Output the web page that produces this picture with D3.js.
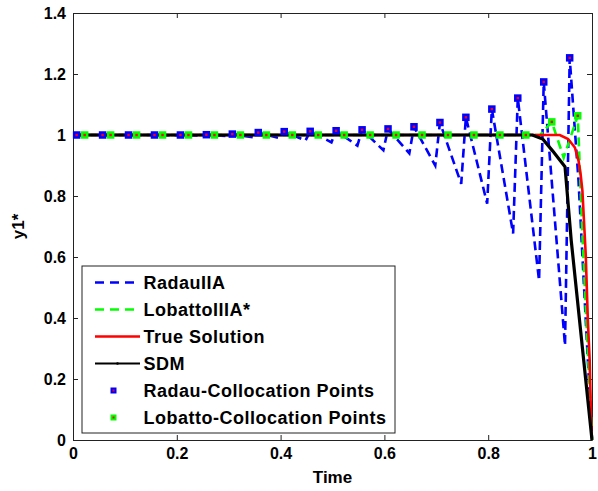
<!DOCTYPE html>
<html>
<head>
<meta charset="utf-8">
<script src="https://cdn.jsdelivr.net/npm/d3@7/dist/d3.min.js"></script>
<style>
body { margin: 0; background: #fff; }
text { font-family: "Liberation Sans", Arial, sans-serif; font-weight: bold; fill: #000; }
</style>
</head>
<body>
<div id="chart"></div>
<script>
// Values

// RadauIIA: a peak at the start of each element, falling to a trough before the next one
const radauPeakT = [0.007, 0.057, 0.107, 0.157, 0.207, 0.257, 0.307, 0.357, 0.407, 0.457,
                    0.507, 0.557, 0.607, 0.657, 0.707, 0.757, 0.807, 0.857, 0.907, 0.957];
const radauPeakV = [1.0, 1.0, 1.0, 1.0, 1.0, 1.001, 1.003, 1.008, 1.011, 1.012,
                    1.014, 1.017, 1.02, 1.027, 1.041, 1.058, 1.085, 1.121, 1.174, 1.253];
const radauTroughT = [0.048, 0.098, 0.148, 0.198, 0.248, 0.298, 0.348, 0.398, 0.448, 0.498,
                      0.548, 0.598, 0.648, 0.698, 0.748, 0.798, 0.848, 0.898, 0.948];
const radauTroughV = [1.0, 1.0, 1.0, 0.999, 0.998, 0.996, 0.992, 0.99, 0.982, 0.976,
                      0.965, 0.95, 0.94, 0.90, 0.84, 0.775, 0.677, 0.523, 0.31];
const radauTailT = [0.974, 0.994, 1.0];
const radauTailV = [0.85, 0.196, 0.0];

// LobattoIIIA*
const lobattoT = [0, 0.9, 0.9225, 0.9455, 0.9725, 0.982, 0.99, 0.9955, 1.0];
const lobattoV = [1.0, 1.0, 1.043, 0.926, 1.063, 0.654, 0.36, 0.173, 0.0];

// Lobatto collocation points (element midpoints)
const lobPtsT = [0.0225, 0.0725, 0.1225, 0.1725, 0.2225, 0.2725, 0.3225, 0.3725, 0.4225, 0.4725,
                 0.5225, 0.5725, 0.6225, 0.6725, 0.7225, 0.7725, 0.8225, 0.8725, 0.9225, 0.9725];
const lobPtsV = [1, 1, 1, 1, 1, 1, 1, 1, 1, 1,
                 1, 1, 1, 1, 1, 1, 1, 1, 1.043, 1.063];

// True Solution
const trueT = [0, 0.938, 0.954, 0.967, 0.974, 0.978, 0.9815, 0.988, 0.992, 0.9955, 0.999];
const trueV = [1.0, 1.0, 0.987, 0.959, 0.916, 0.872, 0.818, 0.605, 0.393, 0.262, 0.01];

// SDM
const sdmT = [0, 0.885, 0.905, 0.924, 0.948, 0.96, 1.0];
const sdmV = [1.0, 1.0, 0.987, 0.948, 0.896, 0.654, 0.0];

const xTicks = [0, 0.2, 0.4, 0.6, 0.8, 1];
const yTicks = [0, 0.2, 0.4, 0.6, 0.8, 1, 1.2, 1.4];
const legendLabels = ["RadauIIA", "LobattoIIIA*", "True Solution", "SDM",
                      "Radau-Collocation Points", "Lobatto-Collocation Points"];

// Chart size
let margin = {top: 13, right: 6, bottom: 51, left: 73},
    width = 598 - margin.left - margin.right,
    height = 491 - margin.top - margin.bottom;

let x = d3.scaleLinear().domain([0, 1]).range([0, width]);
let y = d3.scaleLinear().domain([0, 1.4]).range([height, 0]);

let svg = d3.select("#chart").append("svg")
    .attr("width", 598)
    .attr("height", 491)
    .append("g")
    .attr("transform", "translate(" + margin.left + "," + margin.top + ")");

// Axes (ticks point inward, box on all four sides)
let fmt = d => d3.format("~g")(d);
let gx = svg.append("g")
    .attr("transform", "translate(0," + height + ")")
    .call(d3.axisBottom(x).tickValues(xTicks).tickSize(-5).tickSizeOuter(0).tickPadding(8).tickFormat(fmt));
let gy = svg.append("g")
    .call(d3.axisLeft(y).tickValues(yTicks).tickSize(-5).tickSizeOuter(0).tickPadding(7).tickFormat(fmt));
svg.append("g")
    .call(d3.axisTop(x).tickValues(xTicks).tickSize(-5).tickSizeOuter(0).tickFormat(""));
svg.append("g")
    .attr("transform", "translate(" + width + ",0)")
    .call(d3.axisRight(y).tickValues(yTicks).tickSize(-5).tickSizeOuter(0).tickFormat(""));
svg.selectAll(".domain, .tick line").attr("stroke", "#222");
svg.selectAll(".tick text").style("font-size", "16px").style("font-family", null);

// Axis titles
svg.append("text")
    .attr("x", width / 2)
    .attr("y", height + 43)
    .attr("text-anchor", "middle")
    .style("font-size", "17px")
    .text("Time");
svg.append("text")
    .attr("transform", "translate(" + (-49) + "," + (height / 2) + ") rotate(-90)")
    .attr("text-anchor", "middle")
    .style("font-size", "17px")
    .text("y1*");

// Build the radau line from peaks and troughs
let radauData = [];
for (let i = 0; i < radauPeakT.length; i++) {
    radauData.push({t: radauPeakT[i], v: radauPeakV[i]});
    if (i < radauTroughT.length) radauData.push({t: radauTroughT[i], v: radauTroughV[i]});
}
radauTailT.forEach((t, i) => radauData.push({t: t, v: radauTailV[i]}));

let zip = (ts, vs) => ts.map((t, i) => ({t: t, v: vs[i]}));

let line = d3.line().x(d => x(d.t)).y(d => y(d.v));

svg.append("path").datum(radauData)
    .attr("fill", "none").attr("stroke", "#0000ff").attr("stroke-width", 2.6)
    .attr("stroke-dasharray", "9,5").attr("d", line);
svg.append("path").datum(zip(lobattoT, lobattoV))
    .attr("fill", "none").attr("stroke", "#00ff00").attr("stroke-width", 2.6)
    .attr("stroke-dasharray", "9,5").attr("d", line);
svg.append("path").datum(zip(trueT, trueV))
    .attr("fill", "none").attr("stroke", "#ff0000").attr("stroke-width", 2.6)
    .attr("d", line);
svg.append("path").datum(zip(sdmT, sdmV))
    .attr("fill", "none").attr("stroke", "#000").attr("stroke-width", 3.2)
    .attr("stroke-linejoin", "round").attr("d", line);

// Collocation point markers: filled square with a red dot in the middle
function drawMarkers(data, color, size) {
    let g = svg.append("g");
    g.selectAll("rect.sq").data(data).enter().append("rect")
        .attr("x", d => x(d.t) - size / 2)
        .attr("y", d => y(d.v) - size / 2)
        .attr("width", size).attr("height", size)
        .attr("fill", color);
    g.selectAll("rect.dot").data(data).enter().append("rect")
        .attr("x", d => x(d.t) - 1.2)
        .attr("y", d => y(d.v) - 1.2)
        .attr("width", 2.4).attr("height", 2.4)
        .attr("fill", "#ff0000");
}
drawMarkers(zip(radauPeakT, radauPeakV), "#0000ff", 7.5);
drawMarkers(zip(lobPtsT, lobPtsV), "#00ff00", 7.5);

// Legend
let lg = svg.append("g").attr("transform", "translate(" + (82 - margin.left) + "," + (266 - margin.top) + ")");
lg.append("rect").attr("width", 313).attr("height", 167)
    .attr("fill", "#fff").attr("stroke", "#222").attr("stroke-width", 1);
let rowY = i => 16.5 + i * 27;
let legendStyles = [
    {color: "#0000ff", dash: "9,6", w: 2.6},
    {color: "#00ff00", dash: "9,6", w: 2.6},
    {color: "#ff0000", dash: null, w: 2.4},
    {color: "#000", dash: null, w: 2}
];
legendStyles.forEach((s, i) => {
    lg.append("line").attr("x1", 13).attr("x2", 58)
        .attr("y1", rowY(i)).attr("y2", rowY(i))
        .attr("stroke", s.color).attr("stroke-width", s.w)
        .attr("stroke-dasharray", s.dash);
});
lg.append("circle").attr("cx", 35.5).attr("cy", rowY(3)).attr("r", 1.3).attr("fill", "#000");
["#0000ff", "#00ff00"].forEach((c, j) => {
    let cy = rowY(4 + j);
    lg.append("rect").attr("x", 28.5).attr("y", cy - 3).attr("width", 6).attr("height", 6).attr("fill", c);
    lg.append("rect").attr("x", 30.5).attr("y", cy - 1).attr("width", 2).attr("height", 2).attr("fill", "#ff0000");
});
legendLabels.forEach((label, i) => {
    lg.append("text")
        .attr("x", 61.5).attr("y", rowY(i)).attr("dy", "0.35em")
        .style("font-size", "18px")
        .style("letter-spacing", "0.5px")
        .text(label);
});
</script>
</body>
</html>
